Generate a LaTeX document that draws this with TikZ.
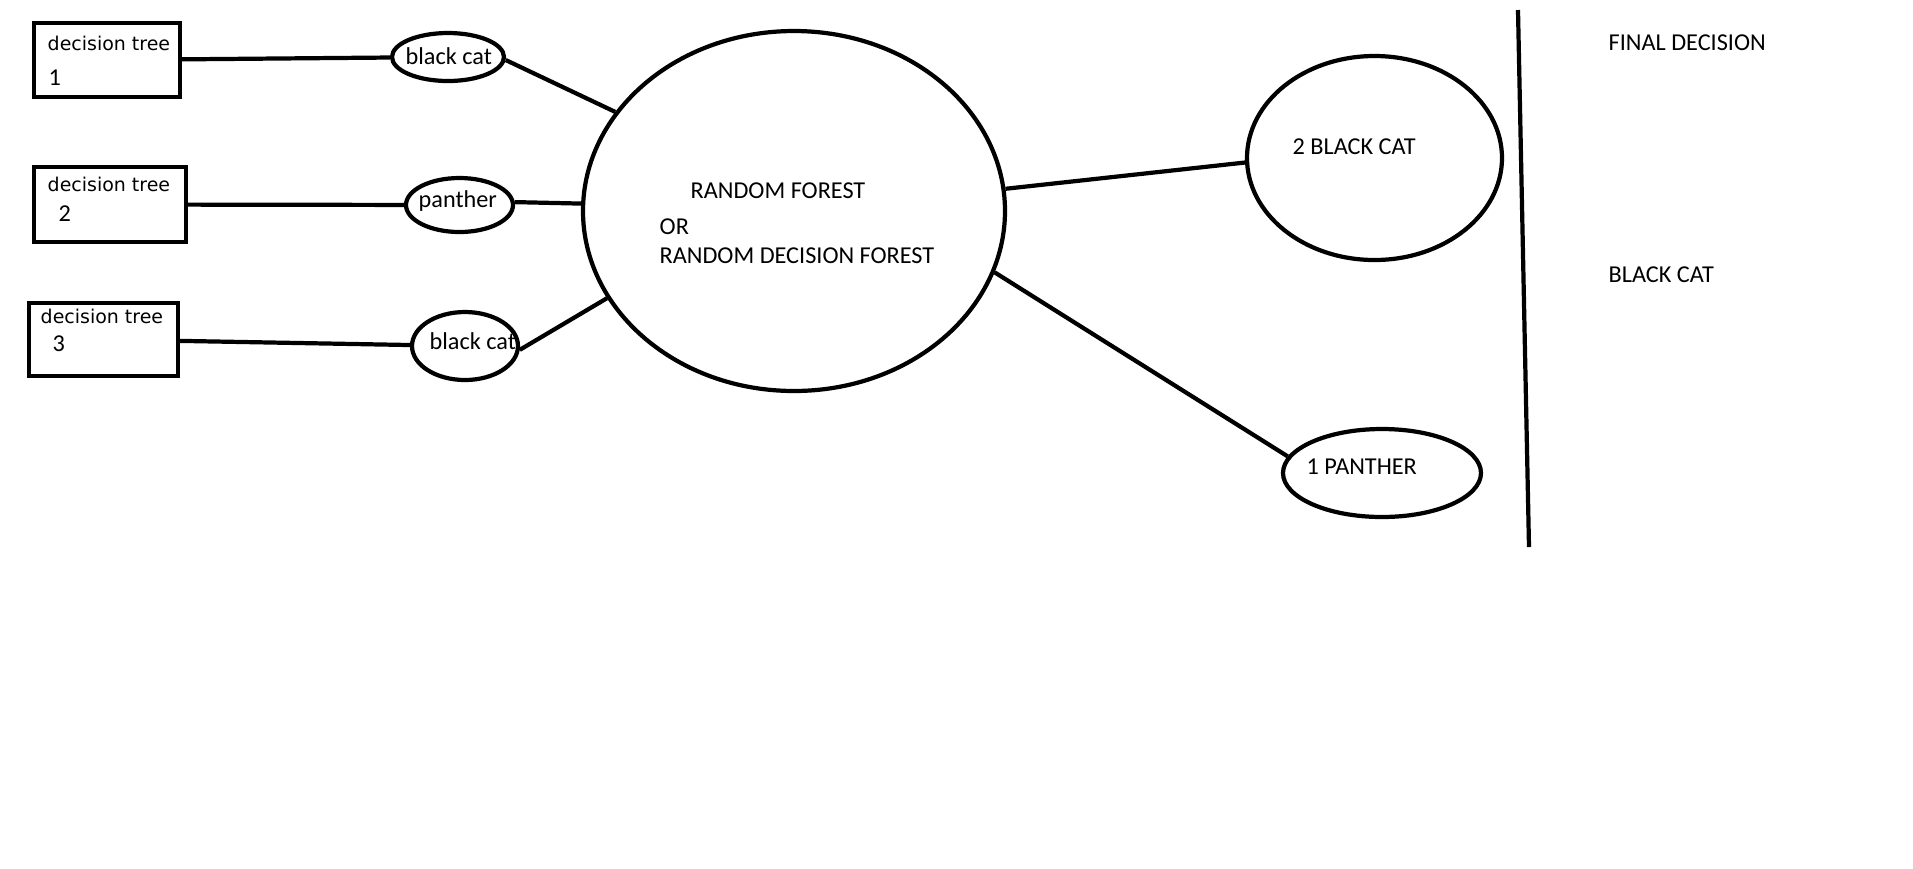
\documentclass[tikz,border=0pt]{standalone}
\usepackage{fontspec}
\setmainfont{Carlito}
\newfontfamily\treefont{DejaVu Sans}
\usetikzlibrary{shapes.geometric}

\tikzset{
  treebox/.style={draw, rectangle, line width=1.2pt, inner sep=0pt},
  vote/.style={draw, ellipse, line width=1.2pt, inner sep=0pt},
  lbl/.style={anchor=base west, inner sep=0pt, font=\fontsize{6.9}{8}\selectfont},
  treelbl/.style={anchor=base west, inner sep=0pt, font=\treefont\fontsize{5.4}{6.5}\selectfont},
  link/.style={line width=1.2pt}
}

\begin{document}
\begin{tikzpicture}
\useasboundingbox (0,0) rectangle (19.13,-8.68);

% decision trees
\node[treebox, minimum width=1.46cm, minimum height=0.74cm] (t1) at (1.07,-0.60) {};
\node[treebox, minimum width=1.52cm, minimum height=0.75cm] (t2) at (1.10,-2.045) {};
\node[treebox, minimum width=1.49cm, minimum height=0.73cm] (t3) at (1.035,-3.395) {};
\node[treelbl] (t1a) at (0.47,-0.50) {decision tree};
\node[lbl] (t1b) at (0.48,-0.85) {1};
\node[treelbl] (t2a) at (0.47,-1.91) {decision tree};
\node[lbl] (t2b) at (0.58,-2.21) {2};
\node[treelbl] (t3a) at (0.40,-3.23) {decision tree};
\node[lbl] (t3b) at (0.52,-3.51) {3};

% votes of the trees
\node[vote, minimum width=1.12cm, minimum height=0.48cm] (v1) at (4.48,-0.57) {};
\node[vote, minimum width=1.07cm, minimum height=0.54cm] (v2) at (4.595,-2.05) {};
\node[vote, minimum width=1.06cm, minimum height=0.68cm] (v3) at (4.65,-3.46) {};
\node[lbl] (v1t) at (4.05,-0.64) {black cat};
\node[lbl] (v2t) at (4.18,-2.07) {panther};
\node[lbl] (v3t) at (4.29,-3.49) {black cat};

% forest
\node[vote, minimum width=4.22cm, minimum height=3.60cm] (rf) at (7.94,-2.11) {};
\node[lbl] (rf1) at (6.90,-1.98) {RANDOM FOREST};
\node[lbl] (rf2) at (6.59,-2.34) {OR};
\node[lbl] (rf3) at (6.59,-2.63) {RANDOM DECISION FOREST};

% counts
\node[vote, minimum width=2.55cm, minimum height=2.04cm] (c1) at (13.745,-1.58) {};
\node[vote, minimum width=1.98cm, minimum height=0.88cm] (c2) at (13.82,-4.73) {};
\node[lbl] (c1t) at (12.92,-1.54) {2 BLACK CAT};
\node[lbl] (c2t) at (13.06,-4.74) {1 PANTHER};

% final decision
\coordinate (d1) at (15.18,-0.10);
\coordinate (d2) at (15.29,-5.47);
\draw[link] (d1) -- (d2);
\node[lbl] (fd) at (16.08,-0.50) {FINAL DECISION};
\node[lbl] (fdt) at (16.08,-2.82) {BLACK CAT};

% connectors
\draw[link] (t1) -- (v1);
\draw[link] (t2) -- (v2);
\draw[link] (t3) -- (v3);
\draw[link] (v1.-3) -- (rf.151);
\draw[link] (v2.3) -- (rf.178);
\draw[link] (v3.-4) -- (rf.205);
\draw[link] (rf.6) -- (c1.182);
\draw[link] (rf.-17) -- (c2.170);
\end{tikzpicture}
\end{document}
